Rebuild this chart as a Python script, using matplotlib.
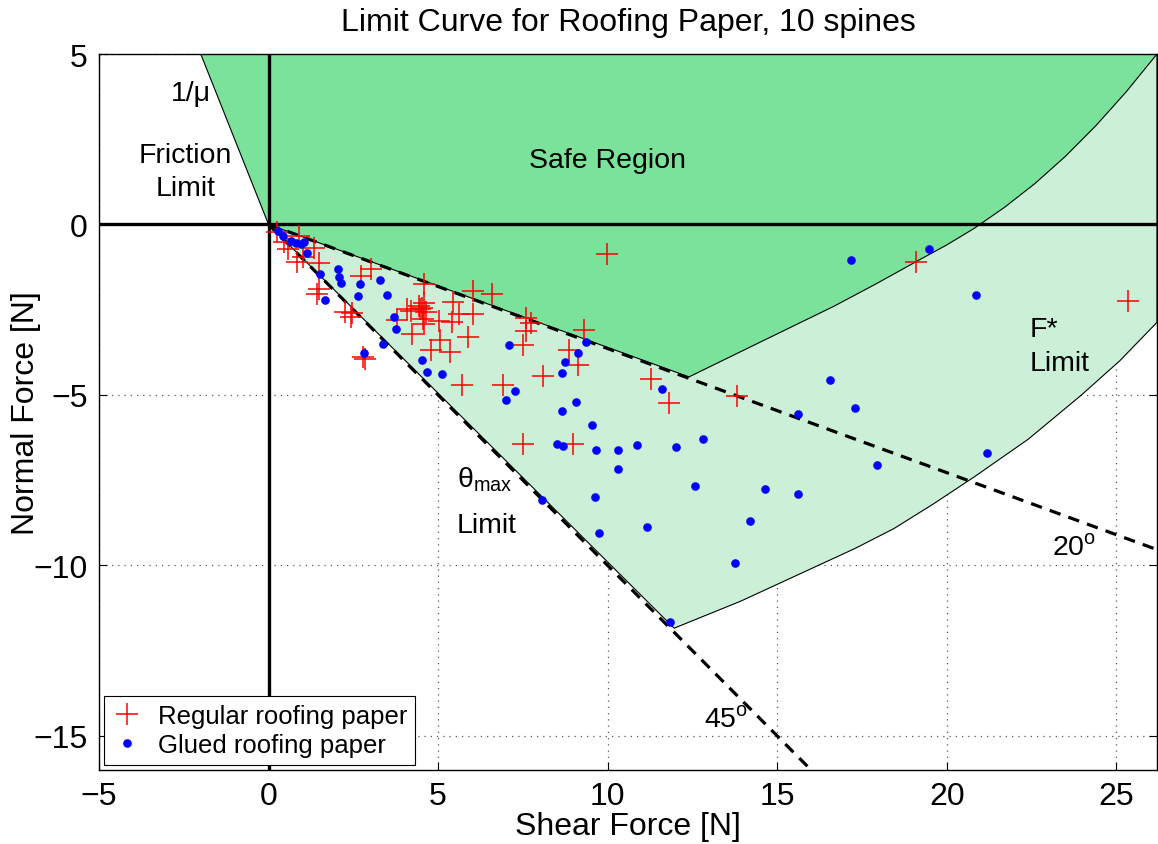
import numpy as np
import matplotlib
matplotlib.use("Agg")
import matplotlib.pyplot as plt
from matplotlib.patches import Polygon

plt.rcParams['font.family'] = ['Liberation Sans', 'DejaVu Sans']
plt.rcParams['mathtext.fontset'] = 'custom'
plt.rcParams['mathtext.rm'] = 'Liberation Sans'

# ---------------- data ----------------
regular_S = [0.25, 0.45, 0.58, 0.91, 0.83, 1.02, 1.35, 1.50, 1.44, 1.48, 2.25, 2.47, 2.42,
             2.78, 2.83, 2.74, 3.02, 4.58, 4.58, 4.09, 4.43, 4.48, 4.24, 3.80, 4.56, 5.03,
             5.44, 5.42, 4.78, 5.05, 5.36, 4.19, 4.53, 4.63, 4.58, 6.03, 6.58, 5.61, 6.03,
             5.88, 9.97, 7.60, 7.75, 7.58, 7.51, 9.30, 8.86, 9.13, 8.10, 5.71, 6.91, 11.29,
             11.81, 7.51, 8.98, 13.80, 19.10, 25.34]
regular_N = [-0.22, -0.50, -0.72, -0.34, -1.10, -0.95, -0.70, -1.12, -2.05, -1.90, -2.56, -2.60, -2.70,
             -3.88, -3.95, -1.51, -1.32, -1.75, -2.29, -2.49, -2.39, -2.49, -3.22, -2.80, -2.78, -2.83,
             -2.27, -2.85, -3.67, -3.38, -3.74, -2.54, -2.44, -2.58, -2.93, -1.95, -2.03, -2.63, -2.63,
             -3.30, -0.86, -2.73, -2.88, -3.12, -3.54, -3.09, -3.67, -4.12, -4.43, -4.71, -4.71, -4.53,
             -5.23, -6.45, -6.45, -5.02, -1.09, -2.24]

glued_S = [0.27, 0.43, 0.66, 0.80, 0.97, 1.05, 1.14, 1.53, 2.06, 2.09, 2.13, 2.69, 2.65, 3.28,
           3.48, 1.66, 3.69, 3.76, 3.37, 2.81, 4.52, 4.68, 5.12, 9.37, 9.13, 8.74, 8.66, 7.10,
           7.27, 6.99, 9.06, 8.66, 9.53, 11.61, 8.50, 8.67, 9.66, 10.30, 10.86, 12.01, 12.81,
           10.30, 12.57, 9.62, 8.06, 9.74, 11.17, 13.76, 11.84, 17.19, 19.49, 20.85, 16.55,
           17.30, 15.62, 17.94, 21.20, 14.64, 15.62, 14.20]
glued_N = [-0.18, -0.34, -0.48, -0.54, -0.57, -0.52, -0.85, -1.44, -1.32, -1.53, -1.73, -1.76, -2.11, -1.64,
           -2.07, -2.22, -2.71, -3.07, -3.50, -3.77, -3.97, -4.33, -4.40, -3.46, -3.77, -4.02, -4.37, -3.54,
           -4.88, -5.16, -5.20, -5.47, -5.87, -4.84, -6.45, -6.50, -6.61, -6.61, -6.46, -6.54, -6.30,
           -7.17, -7.67, -8.00, -8.08, -9.06, -8.86, -9.92, -11.67, -1.05, -0.73, -2.08, -4.56,
           -5.39, -5.56, -7.05, -6.70, -7.75, -7.91, -8.70]

# limit curves
fstar_lower_S = [11.96, 13.92, 16.10, 17.30, 18.44, 19.60, 20.80, 22.40, 23.95, 25.10, 26.20]
fstar_lower_N = [-11.84, -11.05, -10.05, -9.50, -8.92, -8.20, -7.41, -6.30, -5.02, -4.00, -2.87]
safe_upper_S = [12.40, 14.50, 16.67, 17.90, 19.17, 20.00, 20.80, 21.70, 22.60, 23.50, 24.40, 25.30, 26.20]
safe_upper_N = [-4.47, -3.45, -2.40, -1.75, -1.05, -0.60, -0.12, 0.50, 1.20, 2.00, 2.90, 3.90, 5.00]

inv_mu = 2.5          # friction limit slope 1/mu
theta_max_deg = 45.0
theta_min_deg = 20.0

xlim = (-5, 26.2)
ylim = (-16, 5)
xticks = [-5, 0, 5, 10, 15, 20, 25]
yticks = [-15, -10, -5, 0, 5]

dark_green = (0.48, 0.886, 0.608)
light_green = (0.80, 0.941, 0.843)

# ---------------- figure ----------------
fig = plt.figure(figsize=(11.58, 8.45), dpi=100)
ax = fig.add_axes([99/1158, 1 - 771/845, (1157-99)/1158, (771-55)/845])

ax.set_xlim(*xlim)
ax.set_ylim(*ylim)
ax.set_xticks(xticks)
ax.set_yticks(yticks)
ax.set_xticklabels(['\u22125', '0', '5', '10', '15', '20', '25'])
ax.set_yticklabels(['\u221215', '\u221210', '\u22125', '0', '5'])
ax.tick_params(direction='in', top=True, right=True, length=6, width=0.8,
               labelsize=23, pad=8)
ax.grid(True, linestyle=(0, (1, 4)), color='0.35', linewidth=0.9)
ax.set_axisbelow(True)

# light green region (theta_max and F* limit)
light_pts = [(0, 0)] + list(zip(fstar_lower_S, fstar_lower_N)) + [(xlim[1], ylim[1]), (0, ylim[1])]
ax.add_patch(Polygon(light_pts, closed=True, facecolor=light_green, edgecolor='k',
                     linewidth=0.8, zorder=1))

# dark green safe region
top_left_S = -ylim[1] / inv_mu
safe_pts = [(top_left_S, ylim[1]), (0, 0)] + list(zip(safe_upper_S, safe_upper_N)) + [(xlim[1], ylim[1])]
ax.add_patch(Polygon(safe_pts, closed=True, facecolor=dark_green, edgecolor='k',
                     linewidth=0.8, zorder=2))

# dashed angle lines
s20 = np.array([0, xlim[1]])
ax.plot(s20, -np.tan(np.radians(theta_min_deg)) * s20, color='k', lw=2.3,
        dashes=(3.6, 2.6), zorder=3)
s45 = np.array([0, -ylim[0]])
ax.plot(s45, -np.tan(np.radians(theta_max_deg)) * s45, color='k', lw=2.3,
        dashes=(3.6, 2.6), zorder=3)

# thick axes lines
ax.axhline(0, color='k', lw=2.4, zorder=4)
ax.axvline(0, color='k', lw=2.4, zorder=4)

# data
ax.plot(regular_S, regular_N, '+', color='red', markersize=16, markeredgewidth=1.1,
        linestyle='none', zorder=5, label='Regular roofing paper')
ax.plot(glued_S, glued_N, 'o', color='blue', markersize=6.2, markeredgewidth=0,
        linestyle='none', zorder=6, label='Glued roofing paper')

# annotations
fs = 20.5
ax.text(-2.3, 3.85, '1/\u03bc', fontsize=fs, ha='center', va='center')
ax.text(-2.45, 1.55, 'Friction\nLimit', fontsize=fs, ha='center', va='center',
        linespacing=1.38)
ax.text(10.0, 1.9, 'Safe Region', fontsize=fs, ha='center', va='center')
ax.text(22.45, -3.55, 'F*\nLimit', fontsize=fs, ha='left', va='center', linespacing=1.4)
ax.text(5.55, -7.45, '\u03b8$_{\\mathregular{max}}$', fontsize=fs, ha='left', va='center')
ax.text(5.55, -8.8, 'Limit', fontsize=fs, ha='left', va='center')
ax.text(23.1, -9.45, '20$^{\\mathregular{o}}$', fontsize=fs, ha='left', va='center')
ax.text(12.85, -14.5, '45$^{\\mathregular{o}}$', fontsize=fs, ha='left', va='center')

ax.set_title('Limit Curve for Roofing Paper, 10 spines', fontsize=23, pad=17)
ax.set_xlabel('Shear Force [N]', fontsize=23, labelpad=0)
ax.set_ylabel('Normal Force [N]', fontsize=23, labelpad=-5)

leg = ax.legend(loc='lower left', fontsize=18.5, frameon=True, fancybox=False,
                edgecolor='k', framealpha=1, borderpad=0.3, handlelength=1.2,
                handletextpad=0.6, labelspacing=0.2, borderaxespad=0.2)
leg.get_frame().set_linewidth(0.8)

for sp in ax.spines.values():
    sp.set_linewidth(1.0)

fig.savefig('out.png', dpi=100)
